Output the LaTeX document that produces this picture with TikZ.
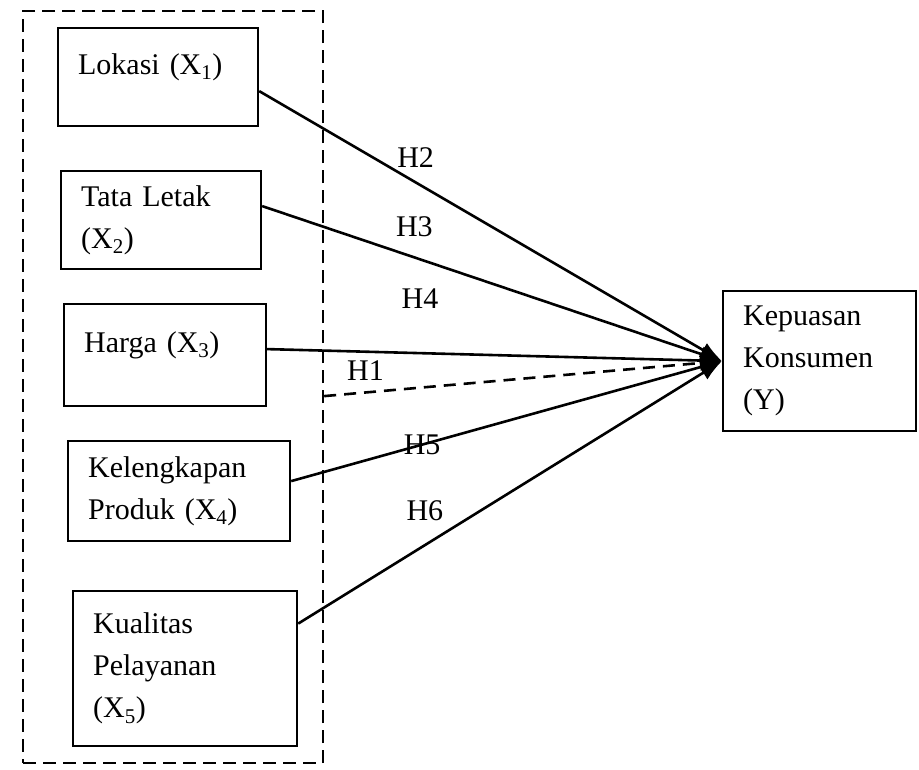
\documentclass[tikz,border=0pt]{standalone}
\usepackage{fontspec}
\setmainfont{Liberation Serif}
\usetikzlibrary{positioning}
\usetikzlibrary{arrows.meta}

\begin{document}
\begin{tikzpicture}[x=1pt, y=-1pt,
    every node/.style={font=\fontsize{30}{42}\selectfont},
    varbox/.style={draw, line width=2.2pt, anchor=north west, align=left, inner xsep=20pt, inner ysep=8pt},
    onerow/.style={text height=36pt, text depth=42pt},
    grpbox/.style={draw, dash pattern=on 13pt off 7pt, line width=2.2pt, anchor=north west},
    hyp/.style={line width=2.6pt, -{Latex[length=22pt, width=16pt]}},
    hlabel/.style={inner sep=0pt}]
        \useasboundingbox (0,0) rectangle (919,769);

        \node[grpbox, minimum width=300pt, minimum height=752pt] (grp) at (22,10) {};

        \node[varbox, onerow, text width=160pt, minimum height=98pt] (lokasi) at (57,27) {Lokasi (X\textsubscript{1})};
        \node[varbox, text width=160pt, minimum height=98pt] (tata) at (60,170) {Tata Letak\\(X\textsubscript{2})};
        \node[varbox, onerow, text width=162pt, minimum height=102pt] (harga) at (63,303) {Harga (X\textsubscript{3})};
        \node[varbox, text width=182pt, minimum height=100pt] (produk) at (67,440) {Kelengkapan\\Produk (X\textsubscript{4})};
        \node[varbox, text width=184pt, minimum height=155pt] (layanan) at (72,590) {Kualitas\\Pelayanan\\(X\textsubscript{5})};

        \node[varbox, text width=153pt, minimum height=140pt] (kepuasan) at (722,290) {Kepuasan\\Konsumen\\(Y)};

        \draw[hyp] ([yshift=-14pt]lokasi.east) -- (kepuasan.west) node[hlabel, pos=0.338, above=14pt] {H2};
        \draw[hyp] ([yshift=14pt]tata.east) -- (kepuasan.west) node[hlabel, pos=0.331, above=19pt] {H3};
        \draw[hyp] ([yshift=6pt]harga.east) -- (kepuasan.west) node[hlabel, pos=0.336, above=43pt] {H4};
        \draw[hyp, dash pattern=on 12pt off 8pt] ([yshift=-9pt]grp.east) -- (kepuasan.west) node[hlabel, pos=0.104, above=11pt] {H1};
        \draw[hyp] ([yshift=10pt]produk.east) -- (kepuasan.west) node[hlabel, pos=0.304] {H5};
        \draw[hyp] ([yshift=45pt]layanan.east) -- (kepuasan.west) node[hlabel, pos=0.299, above=23pt] {H6};
      \end{tikzpicture}
\end{document}
